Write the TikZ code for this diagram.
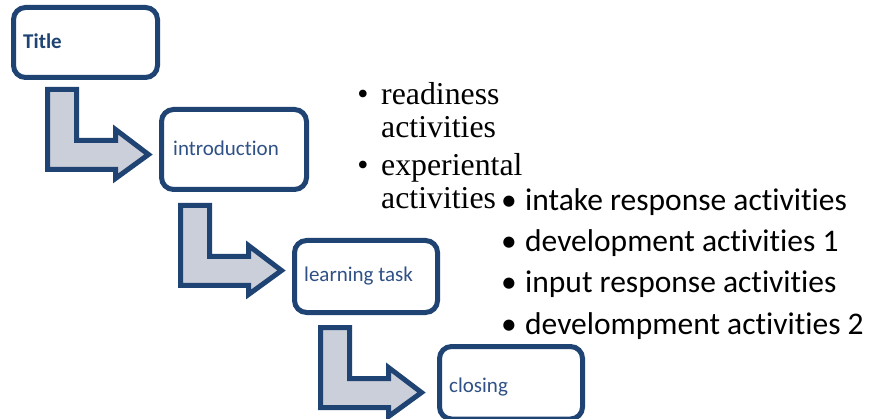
\documentclass[tikz,border=0pt]{standalone}
\usepackage{fontspec}
\setmainfont{Liberation Serif}
\newfontfamily\calfont[Ligatures={NoCommon}]{Carlito}
\definecolor{navy}{HTML}{1F4372}
\definecolor{labelblue}{HTML}{2F5185}
\definecolor{arrowfill}{HTML}{CBCFD9}
\begin{document}
\begin{tikzpicture}[x=1pt,y=-1pt,
  stagebox/.style={draw=navy,line width=5pt,rounded corners=12pt,fill=white,inner sep=0pt},
  bentarrow/.style={draw=navy,line width=5pt,fill=arrowfill,line join=miter},
  boxlabel/.style={anchor=base west,inner sep=0pt,font=\calfont\fontsize{21}{25}\selectfont,text=labelblue},
  serifline/.style={anchor=base west,inner sep=0pt,font=\fontsize{31.8}{36}\selectfont},
  serifbullet/.style={anchor=base,inner sep=0pt,font=\fontsize{31.8}{36}\selectfont},
  sansline/.style={anchor=base west,inner sep=0pt,font=\calfont\fontsize{31.5}{36}\selectfont},
  sansbullet/.style={anchor=base,inner sep=0pt,font=\calfont\fontsize{31.5}{36}\selectfont},
  pics/bentarr/.style={code={
    \draw[bentarrow] (0,0) -- (29,0) -- (29,51) -- (68,51) -- (68,40) -- (101,65)
      -- (68,89) -- (68,80) -- (0,80) -- cycle;}}
]
\useasboundingbox (0,0) rectangle (869,419);

% boxes
\node[stagebox,minimum width=144pt,minimum height=70pt] (b1) at (85.5,42.5) {};
\node[stagebox,minimum width=145pt,minimum height=80pt] (b2) at (234,149.5) {};
\node[stagebox,minimum width=143pt,minimum height=72pt] (b3) at (366,276.5) {};
\node[stagebox,minimum width=143pt,minimum height=72.5pt] (b4) at (511,382.75) {};

% bent arrows
\pic at (47.5,89.5) {bentarr};
\pic at (180.5,205.5) {bentarr};
\pic at (320.5,327.5) {bentarr};

% box labels
\node[boxlabel,text=navy,font=\calfont\bfseries\fontsize{21}{25}\selectfont] (l1) at (23,49) {Title};
\node[boxlabel] (l2) at (173,156) {introduction};
\node[boxlabel] (l3) at (304,282) {learning task};
\node[boxlabel] (l4) at (449,392) {closing};

% serif list
\node[serifbullet] (sb1) at (363,105) {•};
\node[serifline] (s1) at (381,105) {readiness};
\node[serifline] (s2) at (381,138) {activities};
\node[serifbullet] (sb2) at (363,176) {•};
\node[serifline] (s3) at (381,176) {experiental};
\node[serifline] (s4) at (381,209) {activities};

% sans list
\node[sansbullet] (cb1) at (509,211) {•};
\node[sansline] (c1) at (525,211) {intake response activities};
\node[sansbullet] (cb2) at (509,252) {•};
\node[sansline] (c2) at (525,252) {development activities 1};
\node[sansbullet] (cb3) at (509,293) {•};
\node[sansline] (c3) at (525,293) {input response activities};
\node[sansbullet] (cb4) at (509,334) {•};
\node[sansline] (c4) at (525,334) {develompment activities 2};
\end{tikzpicture}
\end{document}
